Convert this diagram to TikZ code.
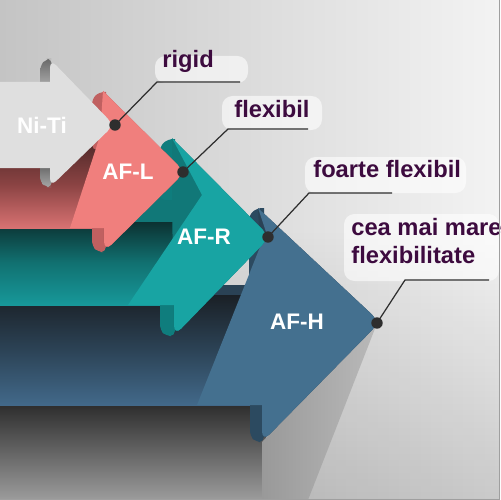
\documentclass[tikz,border=0pt]{standalone}
\usepackage{fontspec}
\setmainfont{Liberation Sans}
\usetikzlibrary{fadings}
\definecolor{bgleft}{HTML}{C4C4C4}
\definecolor{bgright}{HTML}{F3F3F3}
\definecolor{botdark}{HTML}{2E2E2E}
\definecolor{botlight}{HTML}{9C9C9C}
\definecolor{wedgeA}{HTML}{999999}
\definecolor{wedgeB}{HTML}{B9B9B9}
\definecolor{ntface}{HTML}{DFDFDF}
\definecolor{ntsidetop}{HTML}{6A6A6A}
\definecolor{ntsidebot}{HTML}{A6A6A6}
\definecolor{afl}{HTML}{F07F7D}
\definecolor{afldark}{HTML}{C06060}
\definecolor{aflbase}{HTML}{B05656}
\definecolor{afltop}{HTML}{4E2828}
\definecolor{aflmid}{HTML}{8A4343}
\definecolor{aflbot}{HTML}{D87272}
\definecolor{afr}{HTML}{18A4A3}
\definecolor{afrdark}{HTML}{0F7D7D}
\definecolor{afrbase}{HTML}{117878}
\definecolor{afrtop}{HTML}{0C3232}
\definecolor{afrmid}{HTML}{117272}
\definecolor{afrbot}{HTML}{17989A}
\definecolor{afh}{HTML}{44708F}
\definecolor{afhdark}{HTML}{2C4A60}
\definecolor{afhbase}{HTML}{2A4255}
\definecolor{afhtop}{HTML}{1A2026}
\definecolor{afhmid}{HTML}{2C4356}
\definecolor{afhbot}{HTML}{42698A}
\definecolor{labelcol}{HTML}{3D0B3F}
\definecolor{leadcol}{HTML}{2E2E2E}
\tikzfading[name=fadetop, top color=transparent!100, bottom color=transparent!0]
\begin{document}
\begin{tikzpicture}[x=0.02cm,y=-0.02cm,
  dot/.style={circle,fill=leadcol,inner sep=0pt,minimum size=6.5pt},
  leader/.style={draw=leadcol,line width=0.7pt},
  lab/.style={text=labelcol,font=\fontsize{13.5}{16}\selectfont\bfseries,inner sep=0pt},
  arrlab/.style={text=white,font=\fontsize{12.8}{15}\selectfont\bfseries,inner sep=0pt},
  blob/.style={fill=white,opacity=0.6,rounded corners=6pt}]
\useasboundingbox (0,0) rectangle (500,500);
% background
\shade[left color=bgleft, right color=bgright] (0,0) rectangle (500,500);
\fill[black, fill opacity=0.17, path fading=fadetop] (200,230) rectangle (500,500);
% floor shadow
\shade[top color=botdark, bottom color=botlight] (0,405) rectangle (266,500);
\shade[left color=wedgeA, right color=wedgeB] (376,326) -- (262,442) -- (262,500) -- (308,500) -- cycle;
% ---------- AF-H ----------
\fill[afhbase] (0,285) rectangle (262,405);
\shade[top color=afhtop, bottom color=afhbot, middle color=afhmid] (0,295) rectangle (262,405);
\fill[afhdark, rounded corners=3pt] (250,405) -- (250,436) -- (256,442) -- (264,442) [sharp corners] -- (264,405) -- cycle;
\fill[afhdark, rounded corners=3pt] (264,290) -- (249,290) -- (249,215) -- (257,208) [sharp corners] -- (264,208) -- cycle;
\fill[afhbase, rounded corners=6pt] (258,208) -- (380,322) -- (262,442) [sharp corners] -- (262,290) -- cycle;
\fill[afh, rounded corners=6pt] (258,208) -- (380,322) -- (262,442) [sharp corners] -- (262,405) -- (197,405) -- (266,232) -- cycle;
% ---------- AF-R ----------
\fill[afrbase] (0,180) rectangle (174,305);
\shade[top color=afrtop, bottom color=afrbot, middle color=afrmid] (0,222) rectangle (174,305);
\fill[afrdark, rounded corners=3pt] (160,305) -- (160,330) -- (166,336) -- (175,336) [sharp corners] -- (175,305) -- cycle;
\fill[afrdark, rounded corners=3pt] (175,200) -- (160,200) -- (160,146) -- (168,139) [sharp corners] -- (175,139) -- cycle;
\fill[afrbase, rounded corners=6pt] (172,138) -- (270,237) -- (174,336) [sharp corners] -- (172,200) -- cycle;
\fill[afr, rounded corners=6pt] (172,138) -- (270,237) -- (174,336) [sharp corners] -- (174,305) -- (128,305) -- (202,195) -- cycle;
% ---------- AF-L ----------
\fill[aflbase] (0,110) rectangle (105,228);
\shade[top color=afltop, bottom color=aflbot, middle color=aflmid] (0,140) rectangle (105,228);
\fill[afldark, rounded corners=3pt] (92,228) -- (92,246) -- (98,252) -- (106,252) [sharp corners] -- (106,228) -- cycle;
\fill[afldark, rounded corners=3pt] (106,150) -- (92,150) -- (92,99) -- (99,92) [sharp corners] -- (106,92) -- cycle;
\fill[aflbase, rounded corners=6pt] (103,91) -- (185,172) -- (104,252) [sharp corners] -- (103,150) -- cycle;
\fill[afl, rounded corners=6pt] (103,91) -- (185,172) -- (104,252) [sharp corners] -- (104,228) -- (70,228) -- (100,136) -- cycle;
% ---------- Ni-Ti ----------
\shade[top color=ntsidetop, bottom color=ntsidebot, rounded corners=3pt] (40,84) -- (40,66) -- (46,59) -- (52,59) [sharp corners] -- (52,84) -- cycle;
\shade[top color=ntsidetop, bottom color=ntsidebot, rounded corners=3pt] (40,166) -- (40,182) -- (46,187) -- (52,187) [sharp corners] -- (52,166) -- cycle;
\fill[ntface] (0,82) -- (50,82) [rounded corners=5pt] -- (50,59) -- (114,125) -- (50,187) [sharp corners] -- (50,168) -- (0,168) -- cycle;
% arrow labels
\node[arrlab] (nt) at (42,125) {Ni-Ti};
\node[arrlab] (afL) at (128,172) {AF-L};
\node[arrlab] (afR) at (204,237) {AF-R};
\node[arrlab] (afH) at (297,322) {AF-H};
% label blobs
\fill[blob] (155,56) rectangle (248,83);
\fill[blob] (222,96) rectangle (322,130);
\fill[blob] (305,157) rectangle (466,193);
\fill[blob] (344,214) rectangle (499,281);
% leaders
\node[dot] (d1) at (115,125) {};
\node[dot] (d2) at (183,172) {};
\node[dot] (d3) at (268,237) {};
\node[dot] (d4) at (377,323) {};
\coordinate (b1) at (157,82);  \coordinate (e1) at (240,82);
\coordinate (b2) at (228,129); \coordinate (e2) at (308,129);
\coordinate (b3) at (309,193); \coordinate (e3) at (392,193);
\coordinate (b4) at (405,280); \coordinate (e4) at (489,280);
\draw[leader] (d1.center) -- (b1) -- (e1);
\draw[leader] (d2.center) -- (b2) -- (e2);
\draw[leader] (d3.center) -- (b3) -- (e3);
\draw[leader] (d4.center) -- (b4) -- (e4);
% texts
\node[lab,anchor=base west] (t1) at (162,68) {rigid};
\node[lab,anchor=base west] (t2) at (234,117) {flexibil};
\node[lab,anchor=base west] (t3) at (313,177) {foarte flexibil};
\node[lab,anchor=base west] (t4a) at (351,235) {cea mai mare};
\node[lab,anchor=base west] (t4b) at (351,263) {flexibilitate};
% frame edges
\draw[gray!75, line width=0.8pt] (499.3,0) -- (499.3,500);
\draw[gray!75, line width=0.8pt] (0,499.3) -- (500,499.3);
\end{tikzpicture}
\end{document}
